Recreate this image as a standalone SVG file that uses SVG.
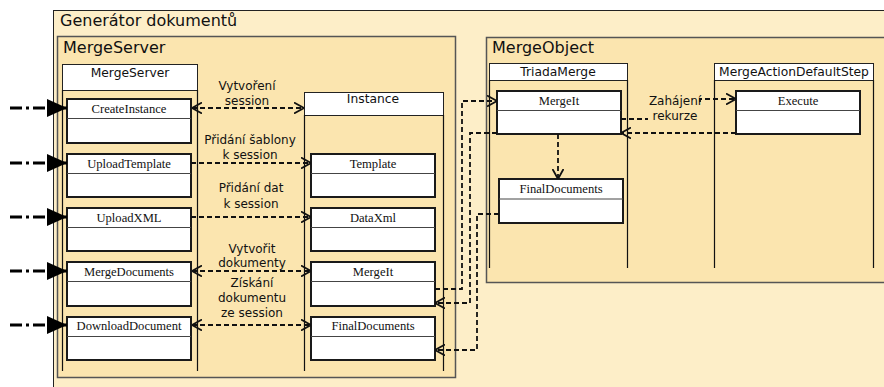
<svg xmlns="http://www.w3.org/2000/svg" width="884" height="387" viewBox="0 0 884 387">
  <style>
    .outer { fill: #FDEEC8; stroke: #222; stroke-width: 1; }
    .frame { fill: #FBE5AF; stroke: #555; stroke-width: 1.5; }
    .title { font-family: "DejaVu Sans", Verdana, sans-serif; font-size: 16px; fill: #111; }
    .head { fill: #fff; stroke: #222; stroke-width: 1; }
    .headtxt { font-family: "DejaVu Sans", Verdana, sans-serif; font-size: 12.3px; fill: #111; text-anchor: middle; }
    .life { stroke: #111; stroke-width: 1.2; fill: none; }
    .box { fill: #fff; stroke: #1a1a1a; stroke-width: 2; }
    .div { stroke: #444; stroke-width: 1; }
    .meth { font-family: "Liberation Serif", "Times New Roman", serif; font-size: 12.6px; fill: #111; text-anchor: middle; }
    .lbl { font-family: "DejaVu Sans", Verdana, sans-serif; font-size: 12px; fill: #111; text-anchor: middle; }
    .msg { stroke: #111; stroke-width: 1.8; fill: none; stroke-dasharray: 5 3; }
    .call { stroke: #000; stroke-width: 3; fill: none; stroke-dasharray: 12 4 3 4; }
  </style>
  <defs>
    <marker id="open" viewBox="0 0 10 12" refX="10" refY="6" markerWidth="10" markerHeight="12" markerUnits="userSpaceOnUse" orient="auto-start-reverse">
      <path d="M0,0.5 L10,6 L0,11.5" fill="none" stroke="#111" stroke-width="1.8"/>
    </marker>
    <marker id="solid" viewBox="0 0 20 18" refX="20" refY="9" markerWidth="20" markerHeight="18" markerUnits="userSpaceOnUse" orient="auto">
      <path d="M0,0 L20,9 L0,18 Z" fill="#000"/>
    </marker>
  </defs>

  <!-- outer package -->
  <g id="generator">
    <rect class="outer" x="53.5" y="10.5" width="840" height="390"/>
    <text class="title" x="60" y="26">Generátor dokumentů</text>
  </g>

  <!-- MergeServer package -->
  <g id="mergeserver-pkg">
    <rect class="frame" x="57.5" y="36.5" width="398" height="341"/>
    <text class="title" x="63" y="53">MergeServer</text>
  </g>

  <!-- MergeObject package -->
  <g id="mergeobject-pkg">
    <rect class="frame" x="486.5" y="37.5" width="420" height="245"/>
    <text class="title" x="492" y="53">MergeObject</text>
  </g>

  <!-- lifelines -->
  <g id="mergeserver">
    <rect class="head" x="62.5" y="64.5" width="135" height="26"/>
    <text class="headtxt" x="130" y="77">MergeServer</text>
    <path class="life" d="M62.5,90 V371 M197.5,90 V371"/>
  </g>
  <g id="instance">
    <rect class="head" x="304.5" y="92.5" width="139" height="23"/>
    <text class="headtxt" x="373" y="103">Instance</text>
    <path class="life" d="M304.5,115 V371 M443.5,115 V371"/>
  </g>
  <g id="triadamerge">
    <rect class="head" x="489.5" y="63.5" width="138" height="17"/>
    <text class="headtxt" x="558" y="75.5">TriadaMerge</text>
    <path class="life" d="M489.5,80 V268 M627.5,80 V268"/>
  </g>
  <g id="mergeactiondefaultstep">
    <rect class="head" x="714.5" y="63.5" width="159" height="17"/>
    <text class="headtxt" x="794" y="75.5">MergeActionDefaultStep</text>
    <path class="life" d="M714.5,80 V268 M873.5,80 V268"/>
  </g>

  <!-- MergeServer operations -->
  <g id="createinstance">
    <rect class="box" x="67" y="99" width="124" height="44"/>
    <line class="div" x1="67" y1="118.5" x2="191" y2="118.5"/>
    <text class="meth" x="129" y="112.5">CreateInstance</text>
  </g>
  <g id="uploadtemplate">
    <rect class="box" x="67" y="154" width="124" height="43"/>
    <line class="div" x1="67" y1="173.5" x2="191" y2="173.5"/>
    <text class="meth" x="129" y="167.5">UploadTemplate</text>
  </g>
  <g id="uploadxml">
    <rect class="box" x="67" y="208" width="124" height="43"/>
    <line class="div" x1="67" y1="227.5" x2="191" y2="227.5"/>
    <text class="meth" x="129" y="221.5">UploadXML</text>
  </g>
  <g id="mergedocuments">
    <rect class="box" x="67" y="262" width="124" height="44"/>
    <line class="div" x1="67" y1="281.5" x2="191" y2="281.5"/>
    <text class="meth" x="129" y="275.5">MergeDocuments</text>
  </g>
  <g id="downloaddocument">
    <rect class="box" x="67" y="317" width="124" height="43"/>
    <line class="div" x1="67" y1="336.5" x2="191" y2="336.5"/>
    <text class="meth" x="129" y="330">DownloadDocument</text>
  </g>

  <!-- Instance parts -->
  <g id="template">
    <rect class="box" x="311" y="154" width="124" height="43"/>
    <line class="div" x1="311" y1="173.5" x2="435" y2="173.5"/>
    <text class="meth" x="373" y="167.5">Template</text>
  </g>
  <g id="dataxml">
    <rect class="box" x="311" y="208" width="124" height="43"/>
    <line class="div" x1="311" y1="227.5" x2="435" y2="227.5"/>
    <text class="meth" x="373" y="221.5">DataXml</text>
  </g>
  <g id="instance-mergeit">
    <rect class="box" x="311" y="262" width="124" height="44"/>
    <line class="div" x1="311" y1="281.5" x2="435" y2="281.5"/>
    <text class="meth" x="373" y="275.5">MergeIt</text>
  </g>
  <g id="instance-finaldocuments">
    <rect class="box" x="311" y="317" width="124" height="43"/>
    <line class="div" x1="311" y1="336.5" x2="435" y2="336.5"/>
    <text class="meth" x="373" y="330">FinalDocuments</text>
  </g>

  <!-- TriadaMerge parts -->
  <g id="triada-mergeit">
    <rect class="box" x="497" y="91" width="124" height="43"/>
    <line class="div" x1="497" y1="110.5" x2="621" y2="110.5"/>
    <text class="meth" x="559" y="104.5">MergeIt</text>
  </g>
  <g id="triada-finaldocuments">
    <rect class="box" x="499" y="179" width="124" height="44"/>
    <line class="div" x1="499" y1="199" x2="623" y2="199"/>
    <text class="meth" x="561" y="192.5">FinalDocuments</text>
  </g>
  <g id="execute">
    <rect class="box" x="736" y="91" width="124" height="43"/>
    <line class="div" x1="736" y1="110.5" x2="860" y2="110.5"/>
    <text class="meth" x="798" y="104.5">Execute</text>
  </g>

  <!-- connectors -->
  <g id="connectors">
    <!-- external calls -->
    <line class="call" x1="10" y1="108" x2="67" y2="108" marker-end="url(#solid)"/>
    <line class="call" x1="10" y1="163" x2="67" y2="163" marker-end="url(#solid)"/>
    <line class="call" x1="10" y1="217" x2="67" y2="217" marker-end="url(#solid)"/>
    <line class="call" x1="10" y1="271" x2="67" y2="271" marker-end="url(#solid)"/>
    <line class="call" x1="10" y1="325" x2="67" y2="325" marker-end="url(#solid)"/>

    <!-- MergeServer <-> Instance -->
    <line class="msg" x1="192" y1="108" x2="304" y2="108" marker-start="url(#open)" marker-end="url(#open)"/>
    <line class="msg" x1="191" y1="163" x2="311" y2="163" marker-end="url(#open)"/>
    <line class="msg" x1="191" y1="217" x2="311" y2="217" marker-end="url(#open)"/>
    <line class="msg" x1="192" y1="271" x2="311" y2="271" marker-start="url(#open)" marker-end="url(#open)"/>
    <line class="msg" x1="192" y1="325" x2="311" y2="325" marker-start="url(#open)" marker-end="url(#open)"/>

    <!-- Instance <-> TriadaMerge -->
    <path class="msg" d="M435,289 H462 V101 H497" marker-end="url(#open)"/>
    <path class="msg" d="M497,133 H470 V303 H435" marker-end="url(#open)"/>
    <path class="msg" d="M499,214 H477 V350 H435" marker-end="url(#open)"/>

    <!-- inside MergeObject -->
    <path class="msg" d="M558,134 V179" marker-end="url(#open)"/>
    <path class="msg" d="M621,119 H648 M700,102 V99 H736" marker-end="url(#open)"/>
    <line class="msg" x1="736" y1="133" x2="621" y2="133" marker-end="url(#open)"/>

    <!-- labels -->
    <text class="lbl" x="247" y="90">Vytvoření</text>
    <text class="lbl" x="247" y="105">session</text>
    <text class="lbl" x="250" y="144">Přidání šablony</text>
    <text class="lbl" x="250" y="159">k session</text>
    <text class="lbl" x="251" y="192">Přidání dat</text>
    <text class="lbl" x="251" y="208">k session</text>
    <text class="lbl" x="252" y="253">Vytvořit</text>
    <text class="lbl" x="252" y="267">dokumenty</text>
    <text class="lbl" x="252" y="287">Získání</text>
    <text class="lbl" x="252" y="302">dokumentu</text>
    <text class="lbl" x="252" y="317">ze session</text>
    <text class="lbl" x="675" y="105">Zahájení</text>
    <text class="lbl" x="675" y="120">rekurze</text>
  </g>
</svg>
